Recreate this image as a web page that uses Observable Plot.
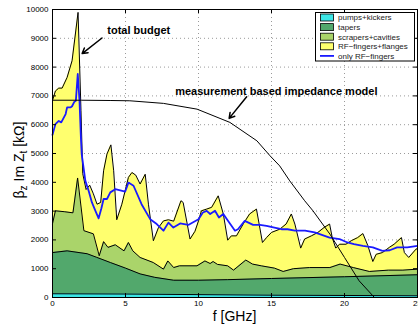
<!DOCTYPE html>
<html><head><meta charset="utf-8">
<script src="https://cdn.jsdelivr.net/npm/d3@7"></script>
<script src="https://cdn.jsdelivr.net/npm/@observablehq/plot@0.6"></script>
<style>body{margin:0;background:#fff} svg{font-family:"Liberation Sans",Arial,Helvetica,sans-serif}</style>
</head><body><div id="chart"></div><script>
// x ticks / y ticks
const xTicks = [0, 5, 10, 15, 20, 25];
const xGrid = [5, 10, 15, 20];
const yTicks = [0, 1000, 2000, 3000, 4000, 5000, 6000, 7000, 8000, 9000, 10000];

// total budget (RF-fingers+flanges, cumulative top)
const totalF = [0,0.2,0.43,0.66,1.0,1.34,1.75,1.95,2.07,2.3,2.55,2.8,3.05,3.3,3.5,3.73,4.0,4.19,4.4,4.75,5.2,5.44,5.7,6.0,6.35,6.57,6.91,7.26,7.6,7.94,8.3,8.8,8.95,9.42,9.76,10.0,10.2,10.56,10.9,11.35,11.7,12.0,12.25,12.6,13.06,13.5,13.97,14.38,14.66,15.0,15.56,16.0,16.36,16.6,17.0,17.27,17.73,18.18,18.6,18.98,19.16,19.4,19.66,20.1,20.46,20.9,21.26,21.6,21.94,22.17,22.6,23.07,23.4,23.9,24.1,24.4,24.9,25];
const totalZ = [6840,7170,7270,7270,7640,8220,9900,6500,4300,3750,3900,3600,3240,3300,4400,4980,5300,4400,2700,3240,4170,4340,4250,3940,4280,3240,1970,2430,2660,2700,2650,3360,3300,2030,2300,2660,3010,3070,3130,3530,2900,1990,2140,2140,2550,2900,3070,1910,2080,2260,2370,2550,2900,2550,1715,2030,2140,2260,2430,2550,2080,1715,1850,1850,1970,2080,2220,1800,1250,1500,1560,1740,1850,2080,1560,1390,1680,1700];

// scrapers+cavities (cumulative top)
const scrapF = [0,0.2,0.8,1.4,1.72,2.15,2.8,3.2,3.5,3.8,4.3,4.9,5.2,5.5,6.0,6.9,7.6,7.9,8.3,8.7,9.9,10.44,10.8,11.0,11.3,12.0,12.4,13.24,13.7,14.3,15.2,15.8,16.5,17.6,19.0,19.7,20.6,21.7,23.0,24.0,25];
const scrapZ = [2560,3010,2980,2940,4150,2320,2210,1450,1940,1740,1830,1620,1910,1620,1390,1215,985,1270,1040,1100,1100,1270,1180,1250,1150,1100,950,1300,1160,1100,1020,904,1000,1040,1040,1160,1040,904,950,950,985];

// tapers (cumulative top)
const taperF = [0,1.0,2.37,3.0,3.96,5.0,6.0,7.0,8.3,10,12,15,20,25];
const taperZ = [1560,1620,1520,1400,1215,1020,820,700,600,600,620,660,720,790];

// pumps+kickers (cumulative top)
const pumpF = [0,5,10,15,20,25];
const pumpZ = [130,120,100,80,70,60];

// only RF-fingers (blue line)
const blueF = [0,0.2,0.43,0.6,0.9,1.0,1.23,1.34,1.5,1.6,1.73,1.85,1.95,2.0,2.25,2.48,2.7,2.94,3.16,3.35,3.5,3.73,3.96,4.3,4.98,5.2,5.55,6.1,6.69,7.14,7.6,7.94,8.28,8.74,9.3,10.0,10.3,10.56,10.8,11.13,11.4,11.7,12.03,12.5,12.7,13.17,13.74,14.2,14.66,15.2,15.68,16.1,16.6,17.3,17.95,18.3,18.98,19.66,20.2,20.65,21.26,21.94,22.6,23.1,23.6,24.3,25];
const blueZ = [5650,6020,6130,6080,6370,6600,6600,6640,6800,6830,7760,6830,5500,4980,4050,3700,3300,3010,2750,3100,3420,3420,3650,3760,3680,3990,3880,3240,2720,2550,2320,2600,2430,2570,2520,2720,2950,3010,2900,3010,2780,2900,2660,2320,2370,2660,2520,2520,2490,2430,2370,2370,2320,2320,2260,2200,2080,2030,1910,1850,1790,1740,1620,1640,1740,1740,1790];

// measurement based impedance model
const modelF = [0,2,4,5.3,7.6,9.9,12.15,14.0,14.9,15.56,16.25,17.27,17.84,19.0,20.0,21.0,22.05];
const modelZ = [6850,6850,6840,6830,6740,6540,6080,5440,4920,4570,4050,3360,3010,2200,1390,580,0];

// legend
const legendLabels = ["pumps+kickers","tapers","scrapers+cavities","RF\u2212fingers+flanges","only RF\u2212fingers"];
const colors = {pump:"#3ce6e6", taper:"#52a86c", scrap:"#aad46a", total:"#ffff6e", blue:"#1a1aff"};
const legendColors = [colors.pump, colors.taper, colors.scrap, colors.total, colors.blue];

const rows = (F, Z) => F.map((f, i) => ({f, v: Z[i]}));
const total = rows(totalF, totalZ), scrap = rows(scrapF, scrapZ), taper = rows(taperF, taperZ),
      pump = rows(pumpF, pumpZ), blue = rows(blueF, blueZ), model = rows(modelF, modelZ);

const dotted = {stroke: "#9a9a9a", strokeWidth: 1, strokeDasharray: "1,3"};
const chart = Plot.plot({
  width: 418, height: 327,
  marginLeft: 52, marginRight: 1, marginTop: 9, marginBottom: 30,
  style: {fontFamily: "Liberation Sans, Arial, Helvetica, sans-serif", fontSize: "8px", background: "#fff", color: "#000", overflow: "visible"},
  x: {domain: [0, 25], ticks: xTicks, tickSize: 0, tickPadding: 3, label: null, tickFormat: d => String(d)},
  y: {domain: [0, 10000], ticks: yTicks, tickSize: 0, tickPadding: 4, label: null, tickFormat: d => String(d)},
  marks: [
    Plot.ruleY(yTicks.slice(1, -1), dotted),
    Plot.ruleX(xGrid, dotted),
    Plot.areaY(total, {x: "f", y1: 0, y2: "v", fill: colors.total}),
    Plot.areaY(scrap, {x: "f", y1: 0, y2: "v", fill: colors.scrap}),
    Plot.areaY(taper, {x: "f", y1: 0, y2: "v", fill: colors.taper}),
    Plot.areaY(pump, {x: "f", y1: 0, y2: "v", fill: colors.pump}),
    Plot.lineY(total, {x: "f", y: "v", stroke: "#000", strokeWidth: 1}),
    Plot.lineY(scrap, {x: "f", y: "v", stroke: "#000", strokeWidth: 1}),
    Plot.lineY(taper, {x: "f", y: "v", stroke: "#000", strokeWidth: 1}),
    Plot.lineY(pump, {x: "f", y: "v", stroke: "#000", strokeWidth: 1}),
    Plot.lineY(blue, {x: "f", y: "v", stroke: colors.blue, strokeWidth: 1.8}),
    Plot.lineY(model, {x: "f", y: "v", stroke: "#000", strokeWidth: 1}),
    Plot.tickY(yTicks, {y: d => d, insetRight: 361, stroke: "#000"}),
    Plot.tickY(yTicks, {y: d => d, insetLeft: 361, stroke: "#000"}),
    Plot.tickX(xTicks, {x: d => d, insetTop: 284, stroke: "#000"}),
    Plot.tickX(xTicks, {x: d => d, insetBottom: 284, stroke: "#000"}),
    Plot.frame({stroke: "#000", strokeWidth: 1}),
    Plot.text(["total budget"], {x: 3.75, y: 9260, text: d => d, textAnchor: "start", fontWeight: "bold", fontSize: 11}),
    Plot.arrow([0], {x1: 3.39, y1: 9010, x2: 2.03, y2: 8470, stroke: "#000", headLength: 6}),
    Plot.text(["measurement based impedance model"], {x: 8.4, y: 7150, text: d => d, textAnchor: "start", fontWeight: "bold", fontSize: 11}),
    Plot.arrow([0], {x1: 13.3, y1: 6970, x2: 12.1, y2: 6220, stroke: "#000", headLength: 6})
  ]
});
document.getElementById("chart").appendChild(chart);

const svg = d3.select(chart);
// axis labels
svg.append("text").attr("x", 234.5).attr("y", 321).attr("text-anchor", "middle")
  .attr("font-size", 14).attr("fill", "#000").text("f [GHz]");
const yl = svg.append("text").attr("transform", "translate(24,160) rotate(-90)")
  .attr("text-anchor", "middle").attr("font-size", 14).attr("fill", "#000");
yl.append("tspan").text("\u03b2");
yl.append("tspan").attr("dy", 3).attr("font-size", 10).text("z");
yl.append("tspan").attr("dy", -3).text(" Im Z");
yl.append("tspan").attr("dy", 3).attr("font-size", 10).text("t");
yl.append("tspan").attr("dy", -3).text(" [k\u03a9]");

// legend
const lg = svg.append("g").attr("text-anchor", "start");
lg.append("rect").attr("x", 315.5).attr("y", 12.5).attr("width", 99).attr("height", 48.5)
  .attr("fill", "#fff").attr("stroke", "#000").attr("stroke-width", 1);
legendLabels.forEach((lab, i) => {
  const cy = 17.5 + i * 9.6;
  if (i < 4) {
    lg.append("rect").attr("x", 320.5).attr("y", cy - 3.5).attr("width", 13).attr("height", 7)
      .attr("fill", legendColors[i]).attr("stroke", "#000").attr("stroke-width", 0.8);
  } else {
    lg.append("line").attr("x1", 320).attr("x2", 334).attr("y1", cy).attr("y2", cy)
      .attr("stroke", legendColors[i]).attr("stroke-width", 1.8);
  }
  lg.append("text").attr("x", 338).attr("y", cy).attr("dy", "0.35em").attr("font-size", 8)
    .attr("text-anchor", "start").attr("fill", "#222").text(lab);
});
</script></body></html>
